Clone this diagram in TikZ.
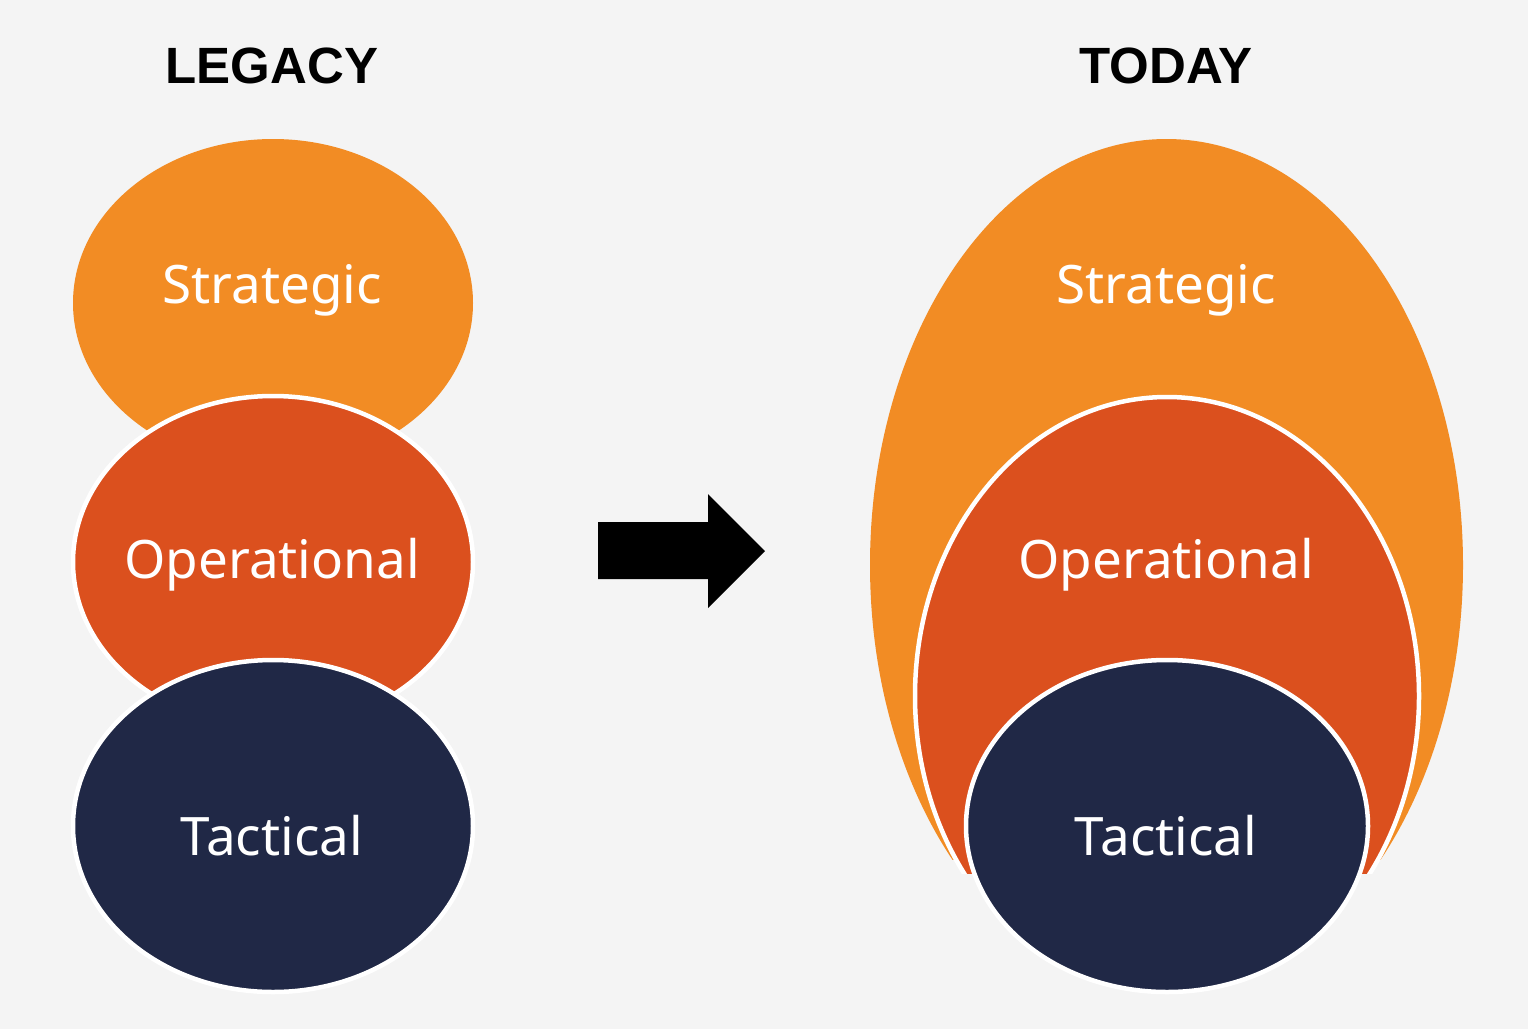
\documentclass[tikz,border=0pt]{standalone}
\usepackage{fontspec}
\setmainfont{Noto Sans}
\newfontfamily\titlefont{Liberation Sans}
\usetikzlibrary{shapes.geometric}
\definecolor{bgc}{RGB}{244,244,244}
\definecolor{strat}{RGB}{242,140,36}
\definecolor{oper}{RGB}{219,80,30}
\definecolor{tact}{RGB}{32,40,70}
\tikzset{
  blob/.style={ellipse, inner sep=0pt, outer sep=0pt},
  rim/.style={draw=white, line width=4.5pt},
  title/.style={font=\titlefont\bfseries\fontsize{51}{51}\selectfont, text=black, anchor=base, inner sep=0pt},
  lbl/.style={font=\fontsize{53}{53}\selectfont, text=white, anchor=base, inner sep=0pt},
}
\begin{document}
\begin{tikzpicture}[x=1pt,y=-1pt]
\fill[bgc] (0,0) rectangle (1528,1029);
\useasboundingbox (0,0) rectangle (1528,1029);
% titles
\node[title] (tleg) at (272,83) {LEGACY};
\node[title] (ttod) at (1166,83) {TODAY};
% legacy stack
\node[blob, fill=strat, minimum width=400pt, minimum height=328pt] (ls) at (273,303) {};
\node[blob, fill=oper, rim, minimum width=400pt, minimum height=332pt] (lo) at (273,562) {};
\node[blob, fill=tact, rim, minimum width=400pt, minimum height=332pt] (lt) at (273,826) {};
\node[lbl] (lsl) at (272,303) {Strategic};
\node[lbl] (lol) at (272,578) {Operational};
\node[lbl] (ltl) at (272,855) {Tactical};
% arrow
\fill[black] (598,522) -- (708,522) -- (708,494) -- (765,551) -- (708,608) -- (708,579) -- (598,579) -- cycle;
% today nested
\begin{scope}
\clip (0,0) rectangle (1528,859);
\node[blob, fill=strat, minimum width=593pt, minimum height=852pt] (rs) at (1166.5,565) {};
\end{scope}
\begin{scope}
\clip (0,0) rectangle (1528,873);
\node[blob, fill=oper, rim, minimum width=504pt, minimum height=598pt] (ro) at (1167,696) {};
\end{scope}
\node[blob, fill=tact, rim, minimum width=402pt, minimum height=332pt] (rt) at (1167,826) {};
\node[lbl] (rsl) at (1166,303) {Strategic};
\node[lbl] (rol) at (1166,578) {Operational};
\node[lbl] (rtl) at (1166,855) {Tactical};
\end{tikzpicture}
\end{document}
